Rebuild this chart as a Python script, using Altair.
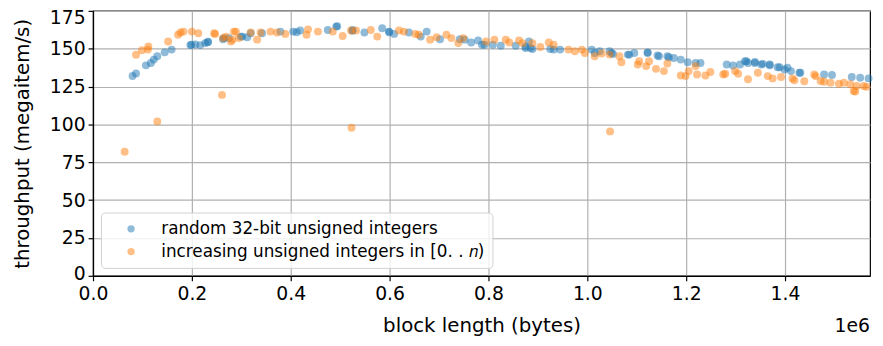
import altair as alt
import pandas as pd

# Series 1: random 32-bit unsigned integers (x in units of 1e6 bytes)
rand_x = [0.080, 0.087, 0.107, 0.117, 0.123, 0.130, 0.145, 0.159, 0.197, 0.199,
          0.207, 0.217, 0.227, 0.232, 0.233, 0.263, 0.265, 0.275, 0.299, 0.302,
          0.312, 0.319, 0.342, 0.379, 0.405, 0.412, 0.419, 0.475, 0.492, 0.494,
          0.525, 0.525, 0.549, 0.585, 0.599, 0.599, 0.609, 0.639, 0.663, 0.675,
          0.702, 0.742, 0.752, 0.765, 0.779, 0.787, 0.792, 0.809, 0.825, 0.855,
          0.875, 0.875, 0.882, 0.885, 0.889, 0.925, 0.932, 0.945, 1.009, 1.015,
          1.025, 1.045, 1.049, 1.052, 1.082, 1.085, 1.095, 1.122, 1.122, 1.142,
          1.145, 1.162, 1.165, 1.175, 1.189, 1.203, 1.219, 1.229, 1.282, 1.295,
          1.309, 1.319, 1.322, 1.325, 1.339, 1.339, 1.352, 1.355, 1.369, 1.369,
          1.385, 1.389, 1.399, 1.405, 1.412, 1.429, 1.431, 1.479, 1.495, 1.535,
          1.552, 1.569]
rand_y = [132.0, 133.7, 139.0, 140.6, 142.8, 145.0, 147.6, 149.4, 152.4, 152.6,
          152.8, 152.4, 153.7, 154.3, 154.6, 156.3, 157.0, 157.0, 158.0, 158.0,
          157.6, 160.2, 160.2, 161.3, 161.3, 160.9, 162.0, 162.4, 164.6, 164.9,
          162.4, 161.8, 160.7, 163.5, 161.3, 160.9, 159.8, 160.7, 158.0, 161.3,
          156.3, 156.3, 156.0, 154.1, 155.4, 152.6, 152.6, 152.6, 152.0, 152.0,
          150.4, 151.5, 154.8, 150.4, 149.8, 149.8, 149.4, 149.4, 149.4, 147.2,
          148.3, 148.3, 147.2, 146.5, 146.1, 146.1, 147.2, 147.6, 147.2, 145.5,
          145.0, 145.0, 144.4, 143.9, 142.8, 141.1, 140.6, 140.6, 139.6, 138.9,
          139.6, 141.7, 141.7, 140.6, 140.6, 141.3, 139.6, 140.0, 139.6, 139.1,
          137.8, 137.8, 136.3, 137.4, 135.2, 134.1, 134.1, 133.0, 132.6, 131.3,
          130.8, 130.4]

# Series 2: increasing unsigned integers in [0..n)
inc_x = [0.064, 0.087, 0.099, 0.111, 0.112, 0.130, 0.152, 0.172, 0.177, 0.183,
         0.200, 0.213, 0.245, 0.247, 0.261, 0.263, 0.269, 0.279, 0.282, 0.285,
         0.289, 0.295, 0.319, 0.332, 0.339, 0.359, 0.372, 0.389, 0.432, 0.435,
         0.455, 0.485, 0.505, 0.522, 0.523, 0.532, 0.562, 0.575, 0.619, 0.629,
         0.652, 0.659, 0.682, 0.695, 0.715, 0.725, 0.739, 0.749, 0.795, 0.812,
         0.835, 0.842, 0.862, 0.869, 0.889, 0.905, 0.922, 0.932, 0.962, 0.975,
         0.989, 0.995, 1.015, 1.029, 1.045, 1.046, 1.065, 1.069, 1.102, 1.105,
         1.119, 1.125, 1.139, 1.155, 1.162, 1.189, 1.199, 1.205, 1.219, 1.222,
         1.239, 1.249, 1.275, 1.279, 1.299, 1.305, 1.325, 1.345, 1.365, 1.375,
         1.392, 1.415, 1.419, 1.439, 1.459, 1.462, 1.472, 1.479, 1.492, 1.509,
         1.519, 1.532, 1.539, 1.542, 1.545, 1.559, 1.565]
inc_y = [81.9, 146.0, 149.0, 149.4, 151.5, 102.0, 154.8, 159.2, 160.7, 161.3,
         161.3, 160.2, 160.2, 159.8, 119.5, 157.0, 158.0, 154.8, 156.0, 161.3,
         161.3, 157.0, 160.7, 156.0, 160.7, 161.3, 160.7, 159.8, 159.2, 162.8,
         161.3, 161.3, 158.4, 162.0, 97.8, 162.0, 162.4, 158.0, 162.0, 161.3,
         159.8, 159.2, 156.0, 157.6, 159.2, 157.0, 153.7, 157.0, 154.8, 156.0,
         156.0, 154.1, 155.4, 153.7, 153.7, 151.1, 154.1, 152.6, 149.4, 148.3,
         149.4, 147.2, 145.0, 146.8, 146.1, 95.4, 145.0, 141.1, 139.6, 141.7,
         138.5, 141.7, 136.7, 135.2, 140.2, 132.3, 131.9, 135.2, 138.5, 133.0,
         132.3, 134.6, 133.0, 133.5, 135.2, 133.5, 129.8, 134.1, 131.9, 130.4,
         131.3, 130.4, 129.1, 128.5, 133.0, 131.9, 128.7, 128.2, 127.6, 126.9,
         127.6, 126.5, 122.1, 121.7, 125.4, 125.4, 124.8]

series_names = ["random 32-bit unsigned integers",
                "increasing unsigned integers in [0. . 𝑛)"]
series_colors = ["#1f77b4", "#ff7f0e"]
x_ticks = [0.0, 0.2, 0.4, 0.6, 0.8, 1.0, 1.2, 1.4]
y_ticks = [0, 25, 50, 75, 100, 125, 150, 175]

df = pd.concat([
    pd.DataFrame({"x": rand_x, "y": rand_y, "series": series_names[0], "order": 0}),
    pd.DataFrame({"x": inc_x, "y": inc_y, "series": series_names[1], "order": 1}),
], ignore_index=True)

W, H = 786, 268
FONT = "DejaVu Sans"

points = alt.Chart(df).mark_circle(size=64, opacity=0.5, stroke=None).encode(
    x=alt.X("x:Q", title="block length (bytes)",
            scale=alt.Scale(domain=[0, 1.572], nice=False, zero=False),
            axis=alt.Axis(values=x_ticks, format=".1f", labelFlush=False,
                          labelPadding=4, titlePadding=12)),
    y=alt.Y("y:Q", title="throughput (megaitem/s)",
            scale=alt.Scale(domain=[0, 175], nice=False),
            axis=alt.Axis(values=y_ticks, labelFlush=False,
                          labelOffset=alt.expr("datum.value == 175 ? 7 : (datum.value == 0 ? -2 : 0)"))),
    color=alt.Color("series:N",
                    scale=alt.Scale(domain=series_names, range=series_colors),
                    legend=alt.Legend(title=None, orient="bottom-left", offset=8)),
    order=alt.Order("order:Q"),
)

exp_text = alt.Chart(pd.DataFrame({"t": ["1e6"]})).mark_text(
    align="right", baseline="middle", fontSize=19, font=FONT, color="black"
).encode(x=alt.value(W), y=alt.value(H + 51), text="t:N")

chart = alt.layer(points, exp_text).properties(
    width=W, height=H,
    autosize=alt.AutoSizeParams(type="none"),
    padding={"left": 86, "top": 1, "right": 5, "bottom": 60},
).configure_view(
    stroke="black", strokeWidth=1.2
).configure_axis(
    labelFont=FONT, titleFont=FONT, labelFontSize=19, titleFontSize=20,
    labelColor="black", titleColor="black", titleFontWeight="normal",
    domainColor="black", tickColor="black", tickSize=5, tickWidth=1.2,
    domainWidth=1.2, gridColor="#b0b0b0", gridWidth=1.2, labelPadding=3,
).configure_axisY(
    titlePadding=17
).configure_legend(
    labelFont=FONT, labelFontSize=17, labelColor="black", labelLimit=0,
    strokeColor="#d0d0d0", fillColor="rgba(255,255,255,0.8)", cornerRadius=4,
    padding=8, symbolOffset=14, labelOffset=22, rowPadding=5,
    symbolSize=55, symbolOpacity=0.5, symbolType="circle", symbolStrokeWidth=0,
)

chart.save("out.html", embed_options={"renderer": "svg", "actions": False})
